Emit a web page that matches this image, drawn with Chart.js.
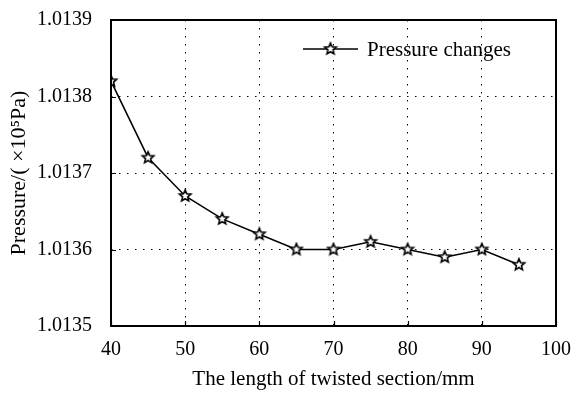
<!DOCTYPE html>
<html>
<head>
<meta charset="utf-8">
<script src="https://cdn.jsdelivr.net/npm/chart.js@4/dist/chart.umd.min.js"></script>
<style>
  html, body { margin: 0; padding: 0; background: #fff; }
  #wrap { width: 574px; height: 396px; }
</style>
</head>
<body>
<div id="wrap"><canvas id="pressureChart" width="574" height="396"></canvas></div>
<script>
// twisted section length (mm) and pressure (x10^5 Pa)
const lengths  = [40, 45, 50, 55, 60, 65, 70, 75, 80, 85, 90, 95];
const pressure = [1.01382, 1.01372, 1.01367, 1.01364, 1.01362, 1.01360, 1.01360, 1.01361, 1.01360, 1.01359, 1.01360, 1.01358];
const xTicks   = [40, 50, 60, 70, 80, 90, 100];
const yTicks   = [1.0135, 1.0136, 1.0137, 1.0138, 1.0139];
const seriesName = 'Pressure changes';

const FONT = '"Liberation Serif", "Times New Roman", serif';

// five point star marker (hollow)
function makeStar(r){
  const size = Math.ceil(r * 2 + 4);
  const c = document.createElement('canvas');
  c.width = size; c.height = size;
  const g = c.getContext('2d');
  const cx = size / 2, cy = size / 2, ri = r * 0.45;
  g.beginPath();
  for(let i = 0; i < 10; i++){
    const rad = i % 2 === 0 ? r : ri;
    const a = -Math.PI / 2 + i * Math.PI / 5;
    const px = cx + rad * Math.cos(a), py = cy + rad * Math.sin(a);
    if(i === 0) g.moveTo(px, py); else g.lineTo(px, py);
  }
  g.closePath();
  g.fillStyle = '#fff';
  g.fill();
  g.lineWidth = 1.6;
  g.strokeStyle = '#000';
  g.stroke();
  return c;
}
const star = makeStar(6);

// frame, inward ticks and legend inside the plot
const framePlugin = {
  id: 'frame',
  afterDatasetsDraw(chart){
    const {ctx, chartArea: a, scales} = chart;
    ctx.save();
    ctx.strokeStyle = '#000';
    ctx.lineWidth = 2;
    ctx.strokeRect(a.left, a.top, a.right - a.left, a.bottom - a.top);
    ctx.lineWidth = 1.2;
    ctx.beginPath();
    xTicks.forEach(v => {
      const px = Math.round(scales.x.getPixelForValue(v)) + 0.5;
      ctx.moveTo(px, a.bottom); ctx.lineTo(px, a.bottom - 5);
    });
    yTicks.forEach(v => {
      const py = Math.round(scales.y.getPixelForValue(v)) + 0.5;
      ctx.moveTo(a.left, py); ctx.lineTo(a.left + 5, py);
    });
    ctx.stroke();

    // legend
    const ly = a.top + 29;
    const lx = a.right - 253;
    ctx.lineWidth = 1.5;
    ctx.beginPath();
    ctx.moveTo(lx, ly); ctx.lineTo(lx + 55, ly);
    ctx.stroke();
    ctx.drawImage(star, lx + 27.5 - star.width / 2, ly - star.height / 2);
    ctx.fillStyle = '#000';
    ctx.font = '21px ' + FONT;
    ctx.textBaseline = 'middle';
    ctx.textAlign = 'left';
    ctx.fillText(seriesName, lx + 64, ly + 1);
    ctx.restore();
  }
};

const gridColor = (scaleMin, scaleMax) => c => {
  const v = c.tick ? c.tick.value : null;
  if(v === null || Math.abs(v - scaleMin) < 1e-9 || Math.abs(v - scaleMax) < 1e-9) return 'rgba(0,0,0,0)';
  return '#000';
};

const ctx = document.getElementById('pressureChart').getContext('2d');
const pressureChart = new Chart(ctx, {
  type: 'line',
  data: {
    datasets: [{
      label: seriesName,
      data: lengths.map((x, i) => ({x: x, y: pressure[i]})),
      borderColor: '#000',
      borderWidth: 1.5,
      pointStyle: star,
      pointRadius: 6,
      tension: 0,
      fill: false
    }]
  },
  options: {
    responsive: false,
    animation: false,
    layout: { padding: { left: 0, top: 20, right: 18, bottom: 0 } },
    plugins: { legend: { display: false }, tooltip: { enabled: false } },
    scales: {
      x: {
        type: 'linear',
        min: 40, max: 100,
        afterBuildTicks: s => { s.ticks = xTicks.map(v => ({value: v})); },
        afterFit: s => { s.height = 70; s.paddingLeft = 0; s.paddingRight = 0; },
        grid: { color: gridColor(40, 100), lineWidth: 1, drawTicks: false },
        border: { display: false, dash: [1.5, 6.5] },
        ticks: { color: '#000', padding: 12, font: { family: FONT, size: 20 }, maxRotation: 0 },
        title: { display: true, text: 'The length of twisted section/mm', color: '#000', padding: { top: 6 }, font: { family: FONT, size: 21 } }
      },
      y: {
        type: 'linear',
        min: 1.0135, max: 1.0139,
        afterBuildTicks: s => { s.ticks = yTicks.map(v => ({value: v})); },
        afterFit: s => { s.width = 111; s.paddingTop = 0; s.paddingBottom = 0; },
        grid: { color: gridColor(1.0135, 1.0139), lineWidth: 1, drawTicks: false },
        border: { display: false, dash: [1.5, 6.5] },
        ticks: { color: '#000', padding: 19, font: { family: FONT, size: 20 }, callback: v => v.toFixed(4) },
        title: { display: true, text: 'Pressure/( \u00d710\u2075Pa)', color: '#000', padding: { top: 6, bottom: 0 }, font: { family: FONT, size: 22 } }
      }
    }
  },
  plugins: [framePlugin]
});
</script>
</body>
</html>
